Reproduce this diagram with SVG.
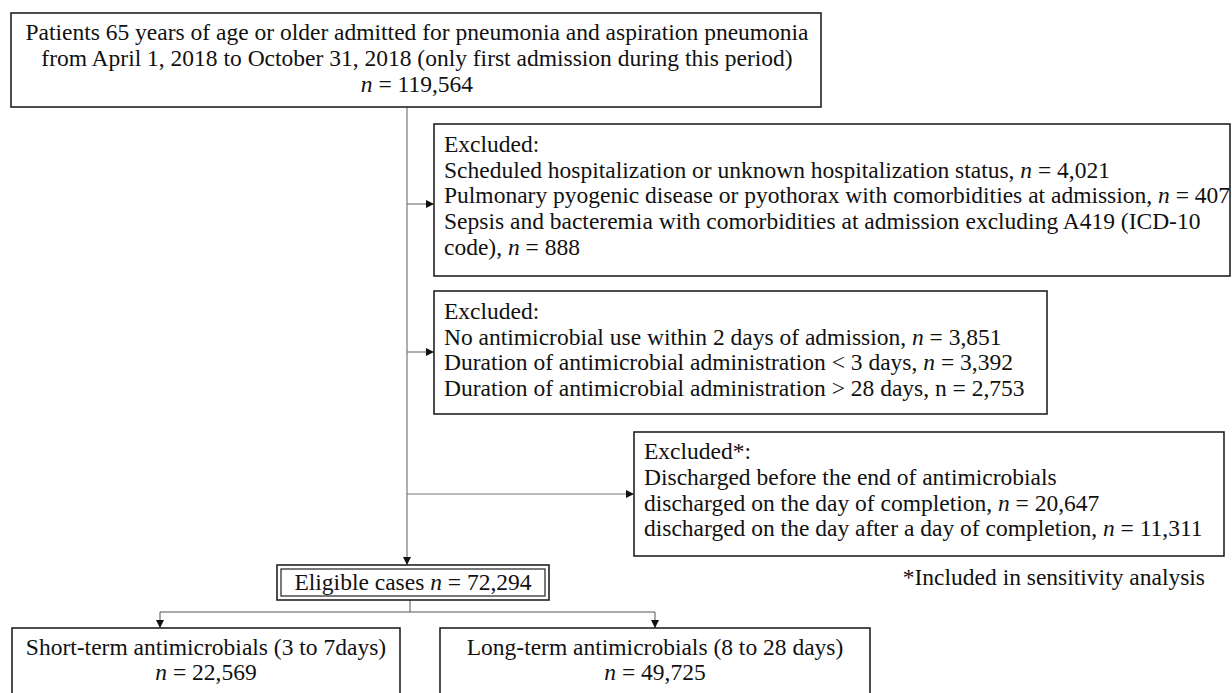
<svg xmlns="http://www.w3.org/2000/svg" width="1232" height="693" viewBox="0 0 1232 693">
<style>
text{font-family:"Liberation Serif","Times New Roman",serif;font-size:23.5px;fill:#111}
.c{text-anchor:middle}
.r{text-anchor:end}
.box{fill:#fff;stroke:#222;stroke-width:1.6}
.ln{fill:none;stroke:#777;stroke-width:1.2}
.ln2{fill:none;stroke:#555;stroke-width:1}
tspan.i{font-style:italic}
</style>
<defs>
<marker id="ah" viewBox="0 0 10 10" refX="10" refY="5" markerWidth="8" markerHeight="8" markerUnits="userSpaceOnUse" orient="auto">
<path d="M0,0 L10,5 L0,10 z" fill="#111"/>
</marker>
</defs>
<rect width="1232" height="693" fill="#fff"/>
<g id="connectors">
<path class="ln" d="M407,107 V565" marker-end="url(#ah)"/>
<path class="ln" d="M407,204 H434" marker-end="url(#ah)"/>
<path class="ln" d="M407,352 H434" marker-end="url(#ah)"/>
<path class="ln" d="M407,494 H634" marker-end="url(#ah)"/>
<path class="ln2" d="M410,600 V612 M160,612 H655"/>
<path class="ln2" d="M160,612 V628" marker-end="url(#ah)"/>
<path class="ln2" d="M655,612 V628" marker-end="url(#ah)"/>
</g>
<g id="n-start">
<rect class="box" x="11" y="13" width="810" height="94"/>
<text class="c" x="417" y="40">Patients 65 years of age or older admitted for pneumonia and aspiration pneumonia</text>
<text class="c" x="417" y="66">from April 1, 2018 to October 31, 2018 (only first admission during this period)</text>
<text class="c" x="417" y="92"><tspan class="i">n</tspan> = 119,564</text>
</g>
<g id="n-excl1">
<rect class="box" x="434" y="124" width="796" height="152"/>
<text x="444" y="152">Excluded:</text>
<text x="444" y="178">Scheduled hospitalization or unknown hospitalization status, <tspan class="i">n</tspan> = 4,021</text>
<text x="444" y="203">Pulmonary pyogenic disease or pyothorax with comorbidities at admission, <tspan class="i">n</tspan> = 407</text>
<text x="444" y="229">Sepsis and bacteremia with comorbidities at admission excluding A419 (ICD-10</text>
<text x="444" y="255">code), <tspan class="i">n</tspan> = 888</text>
</g>
<g id="n-excl2">
<rect class="box" x="434" y="291" width="613" height="123"/>
<text x="444" y="319">Excluded:</text>
<text x="444" y="345">No antimicrobial use within 2 days of admission, <tspan class="i">n</tspan> = 3,851</text>
<text x="444" y="370">Duration of antimicrobial administration &lt; 3 days, <tspan class="i">n</tspan> = 3,392</text>
<text x="444" y="396">Duration of antimicrobial administration &gt; 28 days, n = 2,753</text>
</g>
<g id="n-excl3">
<rect class="box" x="634" y="432" width="590" height="124"/>
<text x="644" y="459">Excluded*:</text>
<text x="644" y="485">Discharged before the end of antimicrobials</text>
<text x="644" y="511">discharged on the day of completion, <tspan class="i">n</tspan> = 20,647</text>
<text x="644" y="536">discharged on the day after a day of completion, <tspan class="i">n</tspan> = 11,311</text>
</g>
<text class="r" x="1205" y="585">*Included in sensitivity analysis</text>
<g id="n-eligible">
<rect class="box" x="277" y="565" width="272" height="35"/>
<rect fill="none" stroke="#222" stroke-width="1.2" x="281" y="569" width="264" height="27"/>
<text class="c" x="413" y="590">Eligible cases <tspan class="i">n</tspan> = 72,294</text>
</g>
<g id="n-short">
<rect class="box" x="12" y="628" width="388" height="66"/>
<text class="c" x="206" y="655">Short-term antimicrobials (3 to 7days)</text>
<text class="c" x="206" y="680"><tspan class="i">n</tspan> = 22,569</text>
</g>
<g id="n-long">
<rect class="box" x="440" y="628" width="430" height="66"/>
<text class="c" x="655" y="655">Long-term antimicrobials (8 to 28 days)</text>
<text class="c" x="655" y="680"><tspan class="i">n</tspan> = 49,725</text>
</g>
</svg>
